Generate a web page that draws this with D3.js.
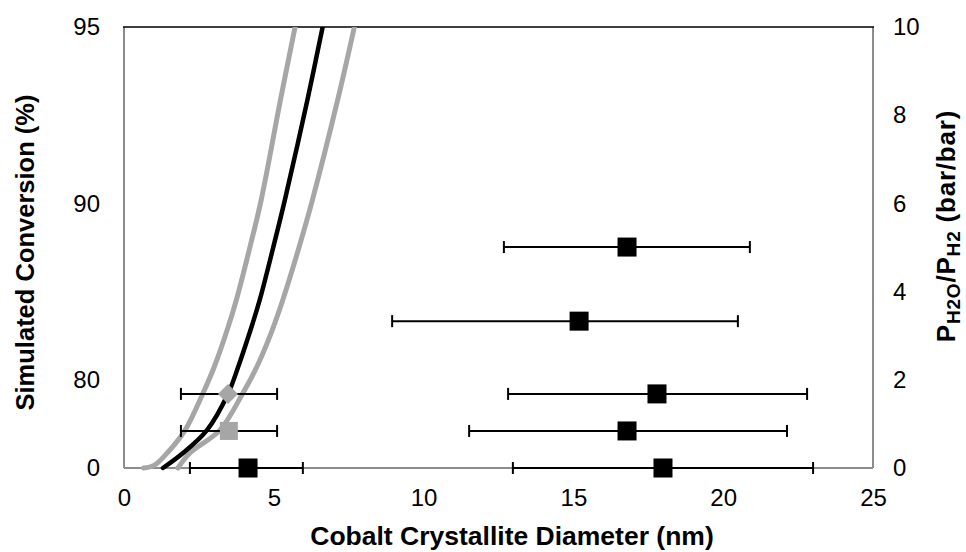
<!DOCTYPE html>
<html>
<head>
<meta charset="utf-8">
<script src="https://cdn.jsdelivr.net/npm/d3@7"></script>
<style>
  html, body { margin: 0; padding: 0; background: #fff; }
  svg { display: block; font-family: "Liberation Sans", Arial, sans-serif; }
</style>
</head>
<body>
<svg id="chart" width="966" height="552"></svg>
<script>
// ---- data ----
const xTicks = [0, 5, 10, 15, 20, 25];
const rightTicks = [0, 2, 4, 6, 8, 10];
const leftTickLabels = ["0", "80", "90", "95"];
const leftTickAt = [0, 2, 6, 10];          // right-axis value where each left label sits

// simulated conversion curves (x: diameter nm, y: right-axis units)
const simX   = [1.30, 1.97, 2.77, 3.47, 3.81, 4.19, 4.53, 4.98, 5.37, 6.12, 6.63];
const simY   = [0.00, 0.34, 0.86, 1.68, 2.29, 3.06, 3.81, 5.00, 6.08, 8.34, 10.0];
const upperX = [0.65, 1.00, 1.44, 2.04, 2.64, 3.01, 3.41, 3.75, 4.20, 4.58, 5.22, 5.71];
const upperY = [0.00, 0.06, 0.34, 0.86, 1.70, 2.29, 3.06, 3.81, 5.00, 6.08, 8.34, 10.0];
const lowerX = [1.80, 2.20, 3.20, 3.97, 4.43, 4.91, 5.30, 5.84, 6.29, 7.13, 7.69];
const lowerY = [0.00, 0.34, 0.86, 1.70, 2.29, 3.06, 3.81, 5.00, 6.08, 8.34, 10.0];

// measured samples (black squares)
const sampleD  = [16.79, 15.19, 17.79, 16.79, 17.99, 4.14];
const sampleP  = [5.01, 3.33, 1.68, 0.84, 0.00, 0.00];
const sampleLo = [12.68, 8.95, 12.82, 11.52, 12.98, 2.20];
const sampleHi = [20.89, 20.49, 22.80, 22.13, 23.00, 5.97];

// grey diamond
const diamD = [3.47], diamP = [1.68], diamLo = [1.90], diamHi = [5.11];
// grey square
const gsqD = [3.50], gsqP = [0.84], gsqLo = [1.90], gsqHi = [5.11];

// ---- layout ----
const L = 124, R = 873, T = 27, B = 468;
const GREY = "#a6a6a6";
const AX = "#8c8c8c";

const svg = d3.select("#chart");
const x = d3.scaleLinear().domain([0, 25]).range([L, R]);
const y = d3.scaleLinear().domain([0, 10]).range([B, T]);

// frame
svg.append("line").attr("x1", L).attr("x2", L).attr("y1", T).attr("y2", B)
  .attr("stroke", AX).attr("stroke-width", 2);
svg.append("line").attr("x1", R).attr("x2", R).attr("y1", T).attr("y2", B)
  .attr("stroke", AX).attr("stroke-width", 2);
svg.append("line").attr("x1", L).attr("x2", R).attr("y1", B).attr("y2", B)
  .attr("stroke", AX).attr("stroke-width", 2);
svg.append("line").attr("x1", L - 1).attr("x2", R + 1).attr("y1", T).attr("y2", T)
  .attr("stroke", "#000").attr("stroke-width", 1.5);

// axes (labels only)
const fontSize = 24;
const gx = svg.append("g").attr("transform", `translate(0,${B})`)
  .call(d3.axisBottom(x).tickValues(xTicks).tickSize(0).tickPadding(21).tickFormat(d3.format("d")));
const gl = svg.append("g").attr("transform", `translate(${L},0)`)
  .call(d3.axisLeft(y).tickValues(leftTickAt).tickSize(0).tickPadding(24)
    .tickFormat((d, i) => leftTickLabels[i]));
const gr = svg.append("g").attr("transform", `translate(${R},0)`)
  .call(d3.axisRight(y).tickValues(rightTicks).tickSize(0).tickPadding(20).tickFormat(d3.format("d")));
[gx, gl, gr].forEach(g => {
  g.select(".domain").remove();
  g.selectAll("text").attr("font-size", fontSize).attr("fill", "#000")
    .attr("font-family", "'Liberation Sans', Arial, sans-serif");
});

// clip
svg.append("clipPath").attr("id", "plotclip").append("rect")
  .attr("x", L - 30).attr("y", T).attr("width", R - L + 60).attr("height", B - T + 10);

const plot = svg.append("g").attr("clip-path", "url(#plotclip)");
const line = d3.line().x(d => x(d[0])).y(d => y(d[1])).curve(d3.curveCatmullRom.alpha(0.5));

plot.append("path").datum(d3.zip(upperX, upperY)).attr("d", line)
  .attr("fill", "none").attr("stroke", GREY).attr("stroke-width", 5).attr("stroke-linecap", "round");
plot.append("path").datum(d3.zip(lowerX, lowerY)).attr("d", line)
  .attr("fill", "none").attr("stroke", GREY).attr("stroke-width", 5).attr("stroke-linecap", "round");
plot.append("path").datum(d3.zip(simX, simY)).attr("d", line)
  .attr("fill", "none").attr("stroke", "#000").attr("stroke-width", 4.5).attr("stroke-linecap", "round");

// error bars
function errBars(D, P, Lo, Hi) {
  const g = svg.append("g").attr("stroke", "#000").attr("stroke-width", 2);
  D.forEach((d, i) => {
    g.append("line").attr("x1", x(Lo[i])).attr("x2", x(Hi[i]))
      .attr("y1", y(P[i])).attr("y2", y(P[i]));
    [Lo[i], Hi[i]].forEach(v => {
      g.append("line").attr("x1", x(v)).attr("x2", x(v))
        .attr("y1", y(P[i]) - 6).attr("y2", y(P[i]) + 6);
    });
  });
}
errBars(diamD, diamP, diamLo, diamHi);
errBars(gsqD, gsqP, gsqLo, gsqHi);
errBars(sampleD, sampleP, sampleLo, sampleHi);

// markers
const sq = 19;
svg.append("g").selectAll("rect").data(d3.zip(sampleD, sampleP)).join("rect")
  .attr("x", d => x(d[0]) - sq / 2).attr("y", d => y(d[1]) - sq / 2)
  .attr("width", sq).attr("height", sq).attr("fill", "#000");
svg.append("g").selectAll("rect").data(d3.zip(gsqD, gsqP)).join("rect")
  .attr("x", d => x(d[0]) - 9).attr("y", d => y(d[1]) - 9)
  .attr("width", 18).attr("height", 18).attr("fill", GREY);
svg.append("g").selectAll("path").data(d3.zip(diamD, diamP)).join("path")
  .attr("transform", d => `translate(${x(d[0])},${y(d[1])})`)
  .attr("d", "M0,-10L10,0L0,10L-10,0Z").attr("fill", GREY);

// titles
svg.append("text").attr("x", 512).attr("y", 545)
  .attr("text-anchor", "middle").attr("font-weight", "bold").attr("font-size", 26.5)
  .text("Cobalt Crystallite Diameter (nm)");
svg.append("text").attr("transform", `translate(34,${(T + B) / 2 + 5}) rotate(-90)`)
  .attr("text-anchor", "middle").attr("font-weight", "bold").attr("font-size", 25.5)
  .text("Simulated Conversion (%)");

const rt = svg.append("text").attr("transform", `translate(955,226) rotate(-90)`)
  .attr("text-anchor", "middle").attr("font-weight", "bold").attr("font-size", 26)
  .attr("letter-spacing", 0.8);
rt.append("tspan").text("P");
rt.append("tspan").attr("font-size", 19).attr("dy", 5).text("H2O");
rt.append("tspan").attr("dy", -5).text("/P");
rt.append("tspan").attr("font-size", 19).attr("dy", 5).text("H2");
rt.append("tspan").attr("dy", -5).text(" (bar/bar)");
</script>
</body>
</html>
